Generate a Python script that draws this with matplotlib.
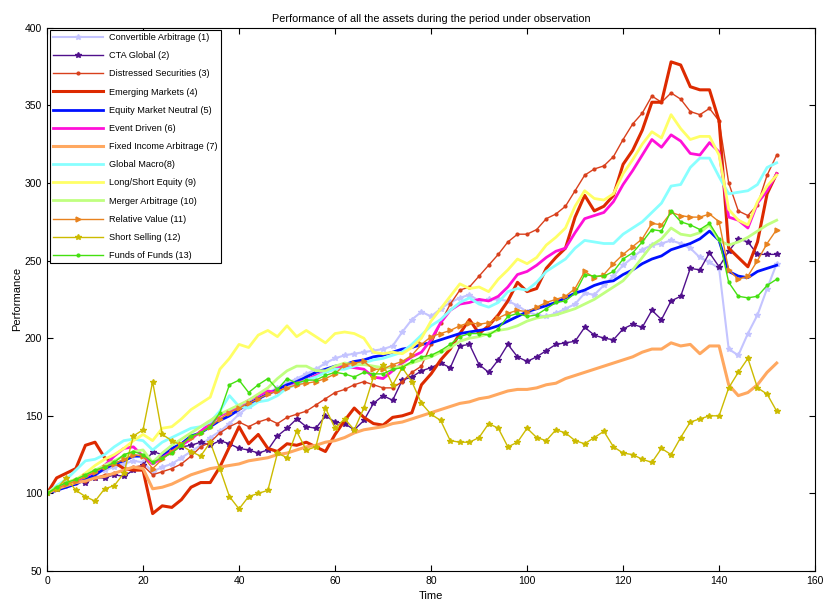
import numpy as np
import matplotlib
matplotlib.use("Agg")
import matplotlib.pyplot as plt

plt.rcParams['font.family'] = ['Liberation Sans', 'DejaVu Sans']

# time index (every second observation)
time = np.arange(0, 153, 2)

convertible = [100, 103, 106, 108, 110, 112, 115, 117, 119, 121,
               120, 114, 117, 119, 123, 127, 131, 136, 140, 145,
               151, 156, 161, 165, 168, 171, 174, 177, 180, 184,
               187, 189, 190, 191, 192, 193, 195, 204, 212, 217,
               214, 219, 223, 226, 228, 224, 225, 225, 224, 221,
               217, 215, 214, 216, 219, 222, 229, 228, 234, 240,
               247, 252, 257, 260, 261, 263, 261, 258, 252, 249,
               245, 193, 189, 203, 215, 232, 248]
cta = [100, 103, 106, 108, 107, 110, 110, 112, 111, 115,
       118, 127, 125, 128, 130, 131, 133, 131, 134, 132,
       129, 128, 126, 128, 137, 142, 148, 143, 142, 150,
       146, 145, 141, 147, 158, 163, 160, 173, 175, 179,
       181, 184, 181, 195, 196, 183, 178, 186, 196, 188,
       185, 188, 192, 196, 197, 198, 207, 202, 200, 199,
       206, 209, 207, 218, 212, 224, 227, 245, 244, 255,
       246, 256, 264, 262, 254, 254, 254]
distressed = [100, 103, 105, 107, 108, 110, 112, 113, 115, 117,
              118, 112, 114, 116, 119, 124, 130, 133, 139, 143,
              146, 143, 146, 148, 145, 149, 151, 153, 157, 161,
              165, 167, 170, 172, 170, 168, 168, 172, 178, 182,
              196, 210, 222, 231, 233, 240, 247, 254, 262, 267,
              267, 270, 277, 280, 285, 295, 305, 309, 311, 317,
              328, 338, 345, 356, 352, 358, 354, 346, 344, 348,
              340, 300, 282, 279, 286, 305, 318]
emerging = [100, 110, 113, 116, 131, 133, 123, 120, 116, 115,
            115, 87, 92, 91, 96, 104, 107, 107, 117, 130,
            143, 132, 138, 129, 127, 132, 131, 133, 130, 127,
            138, 147, 155, 149, 145, 144, 149, 150, 152, 170,
            177, 186, 193, 203, 212, 203, 208, 215, 224, 236,
            230, 232, 245, 252, 258, 278, 292, 282, 285, 292,
            312, 321, 334, 352, 352, 378, 376, 362, 360, 360,
            340, 258, 252, 246, 262, 293, 306]
eq_neutral = [100, 102, 104, 106, 109, 112, 116, 119, 121, 124,
              124, 120, 124, 129, 132, 137, 139, 143, 147, 150,
              154, 158, 161, 164, 167, 170, 172, 175, 178, 180,
              182, 183, 185, 186, 188, 189, 191, 193, 194, 196,
              197, 199, 201, 203, 204, 205, 206, 208, 211, 214,
              217, 219, 221, 223, 226, 229, 231, 234, 236, 237,
              241, 244, 248, 251, 253, 257, 259, 261, 264, 269,
              263, 243, 240, 239, 243, 245, 247]
event_driven = [100, 104, 106, 108, 111, 114, 118, 124, 129, 130,
                124, 119, 123, 127, 131, 135, 140, 145, 150, 153,
                156, 160, 163, 166, 165, 168, 171, 173, 176, 178,
                181, 182, 181, 180, 175, 174, 179, 184, 188, 191,
                199, 210, 218, 222, 223, 225, 224, 227, 233, 241,
                243, 247, 252, 256, 258, 268, 277, 279, 281, 288,
                299, 308, 318, 328, 323, 331, 327, 319, 318, 326,
                320, 278, 276, 271, 287, 295, 306]
fixed_income = [100, 103, 105, 107, 108, 110, 111, 113, 115, 117,
                116, 103, 104, 106, 109, 112, 114, 116, 117, 118,
                119, 121, 122, 123, 125, 126, 128, 130, 131, 133,
                134, 136, 139, 141, 142, 143, 145, 146, 148, 150,
                152, 154, 156, 158, 159, 161, 162, 164, 166, 167,
                167, 168, 170, 171, 174, 176, 178, 180, 182, 184,
                186, 188, 191, 193, 193, 197, 195, 196, 190, 195,
                195, 170, 163, 165, 170, 178, 184]
global_macro = [100, 105, 109, 115, 121, 122, 125, 130, 134, 135,
                134, 128, 133, 136, 139, 142, 143, 146, 153, 163,
                156, 155, 159, 160, 163, 168, 170, 173, 175, 178,
                180, 180, 182, 184, 186, 187, 189, 191, 196, 202,
                208, 212, 218, 223, 226, 222, 220, 223, 230, 232,
                231, 236, 243, 247, 251, 258, 263, 262, 261, 261,
                267, 271, 275, 281, 287, 298, 299, 310, 316, 316,
                304, 293, 294, 295, 299, 310, 313]
long_short = [100, 104, 107, 109, 113, 118, 122, 125, 129, 134,
              138, 134, 142, 143, 148, 154, 158, 162, 180, 187,
              196, 194, 202, 205, 201, 208, 201, 205, 201, 197,
              203, 204, 203, 200, 191, 190, 191, 190, 194, 200,
              211, 219, 227, 235, 232, 233, 230, 238, 244, 251,
              248, 252, 260, 265, 271, 285, 295, 290, 289, 293,
              306, 315, 325, 333, 329, 344, 335, 328, 330, 330,
              318, 283, 276, 273, 288, 298, 305]
merger = [100, 104, 107, 109, 112, 115, 118, 121, 124, 127,
          128, 120, 126, 131, 135, 139, 143, 147, 151, 154,
          157, 160, 164, 168, 174, 179, 182, 182, 179, 179,
          182, 184, 183, 183, 182, 181, 181, 182, 184, 186,
          188, 191, 194, 198, 200, 201, 203, 205, 206, 208,
          211, 213, 214, 215, 217, 219, 222, 225, 229, 233,
          237, 244, 252, 260, 264, 271, 267, 266, 268, 273,
          263, 260, 262, 265, 269, 273, 276]
relative_value = [100, 103, 106, 108, 111, 114, 117, 119, 122, 125,
                  124, 116, 122, 127, 132, 136, 139, 143, 148, 152,
                  155, 158, 161, 164, 166, 168, 170, 171, 172, 174,
                  177, 183, 184, 185, 180, 180, 183, 185, 189, 196,
                  201, 203, 205, 208, 210, 209, 210, 213, 216, 218,
                  217, 220, 223, 225, 227, 232, 243, 239, 241, 248,
                  254, 259, 264, 274, 273, 281, 279, 278, 278, 280,
                  275, 244, 238, 240, 250, 261, 270]
short_selling = [100, 103, 110, 102, 98, 95, 103, 105, 113, 137,
                 141, 172, 138, 134, 131, 127, 124, 133, 116, 98,
                 90, 98, 100, 102, 126, 123, 140, 128, 130, 155,
                 142, 148, 141, 155, 175, 183, 170, 181, 172, 158,
                 151, 147, 134, 133, 133, 136, 145, 142, 130, 133,
                 142, 136, 134, 141, 139, 134, 132, 136, 140, 130,
                 126, 125, 122, 120, 129, 125, 136, 146, 148, 150,
                 150, 168, 178, 187, 168, 164, 153]
funds_of_funds = [100, 104, 107, 109, 112, 115, 117, 120, 125, 127,
                  125, 120, 123, 126, 131, 137, 139, 143, 152, 170,
                  173, 165, 170, 174, 167, 174, 171, 173, 173, 176,
                  178, 177, 175, 178, 177, 177, 180, 181, 185, 188,
                  189, 192, 196, 201, 203, 203, 202, 206, 214, 216,
                  214, 215, 219, 223, 224, 229, 241, 240, 240, 243,
                  251, 255, 262, 270, 269, 282, 275, 273, 270, 274,
                  264, 236, 227, 226, 227, 234, 238]

labels = ['Convertible Arbitrage (1)', 'CTA Global (2)', 'Distressed Securities (3)',
          'Emerging Markets (4)', 'Equity Market Neutral (5)', 'Event Driven (6)',
          'Fixed Income Arbitrage (7)', 'Global Macro(8)', 'Long/Short Equity (9)',
          'Merger Arbitrage (10)', 'Relative Value (11)', 'Short Selling (12)',
          'Funds of Funds (13)']
series = [convertible, cta, distressed, emerging, eq_neutral, event_driven,
          fixed_income, global_macro, long_short, merger, relative_value,
          short_selling, funds_of_funds]
# (color, linewidth, marker, markersize)
styles = [('#c4c4ff', 1.5, '*', 4),
          ('#50108c', 1.0, '*', 4),
          ('#d8401c', 1.0, '.', 4),
          ('#dd2a00', 2.2, None, 0),
          ('#0010ff', 2.0, None, 0),
          ('#ff10d8', 2.0, None, 0),
          ('#ffa860', 2.2, None, 0),
          ('#88ffff', 2.0, None, 0),
          ('#ffff66', 2.0, None, 0),
          ('#c0ff80', 2.0, None, 0),
          ('#e8821e', 1.0, '>', 3.5),
          ('#ccbb00', 1.0, '*', 4),
          ('#44e010', 1.0, '.', 4)]

fig = plt.figure(figsize=(8.25, 6.03), dpi=100)
ax = fig.add_axes([0.057, 0.053, 0.931, 0.901])

for vals, lab, (c, lw, m, ms) in zip(series, labels, styles):
    ax.plot(time, vals, color=c, lw=lw, marker=m, ms=ms, label=lab)

ax.set_xlim(0, 160)
ax.set_ylim(50, 400)
ax.set_xticks(np.arange(0, 161, 20))
ax.set_yticks(np.arange(50, 401, 50))
ax.tick_params(direction='in', top=True, right=True, labelsize=7.5, length=4)
for sp in ax.spines.values():
    sp.set_linewidth(0.8)

ax.set_title('Performance of all the assets during the period under observation',
             fontsize=7.8, pad=4)
ax.set_xlabel('Time', fontsize=8, labelpad=4)
ax.set_ylabel('Performance', fontsize=8, labelpad=2)

leg = ax.legend(loc='upper left', bbox_to_anchor=(0.004, 0.996), borderaxespad=0,
                fontsize=6.6, numpoints=1, handlelength=5.4, handletextpad=0.7,
                labelspacing=1.0, borderpad=0.35, fancybox=False,
                edgecolor='black', framealpha=1)
leg.get_frame().set_linewidth(0.8)

fig.savefig('out.png', dpi=100)
